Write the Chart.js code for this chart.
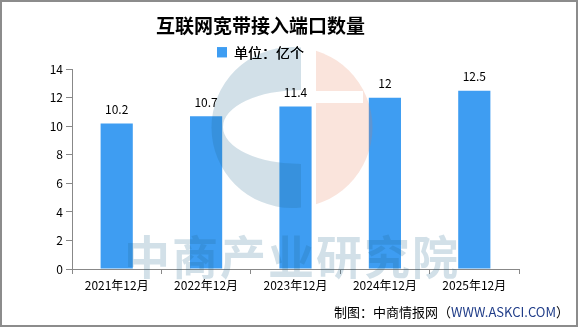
<!DOCTYPE html>
<html>
<head>
<meta charset="utf-8">
<script src="https://cdn.jsdelivr.net/npm/chart.js"></script>
<style>
    body { margin: 0; background: #fff; }
    #marco { position: absolute; left: 0; top: 0; width: 578px; height: 327px; border: 2px solid #8c8c8c; box-sizing: border-box; }
    canvas { display: block; }
</style>
</head>
<body>
<div id="marco"><canvas id="chartPuertos" width="574" height="323"></canvas></div>
<script>
// Datos del gráfico
const categorias = ['2021年12月', '2022年12月', '2023年12月', '2024年12月', '2025年12月'];
const valores = [10.2, 10.7, 11.4, 12, 12.5];
const etiquetasValor = ['10.2', '10.7', '11.4', '12', '12.5'];
const ticksY = [0, 2, 4, 6, 8, 10, 12, 14];

const fuente = '"Noto Sans CJK SC", "Liberation Sans", sans-serif';

// Marca de agua (logo + texto) encima de las barras
const marcaAgua = {
    id: 'marcaAgua',
    afterDatasetsDraw(chart) {
        const ctx = chart.ctx;
        ctx.save();
        // parte azul: mitad izquierda del círculo menos elipse
        ctx.beginPath();
        ctx.rect(0, 0, 299, 323);
        ctx.clip();
        ctx.beginPath();
        ctx.arc(290, 125.5, 80.5, 0, Math.PI * 2);
        ctx.ellipse(299, 125, 78, 37, 0, 0, Math.PI * 2, true);
        ctx.fillStyle = 'rgba(30,100,140,0.2)';
        ctx.fill('evenodd');
        ctx.restore();

        // parte rosa: mitad derecha con muesca
        ctx.save();
        ctx.beginPath();
        ctx.rect(314, 0, 100, 89);
        ctx.rect(314, 101, 100, 200);
        ctx.rect(361, 89, 60, 12);
        ctx.clip();
        ctx.beginPath();
        ctx.arc(290, 125.5, 80.5, 0, Math.PI * 2);
        ctx.fillStyle = 'rgba(230,120,80,0.2)';
        ctx.fill();
        ctx.restore();

        // texto
        ctx.save();
        ctx.font = 'bold 46px ' + fuente;
        ctx.letterSpacing = '2px';
        ctx.textAlign = 'center';
        ctx.textBaseline = 'middle';
        ctx.fillStyle = 'rgba(30,100,140,0.2)';
        ctx.fillText('中商产业研究院', 290, 255);
        ctx.restore();
    },
    afterDraw(chart) {
        chart.legend.draw();
    }
};

// Etiquetas de valor y pie
const etiquetas = {
    id: 'etiquetas',
    afterDraw(chart) {
        const ctx = chart.ctx;
        const meta = chart.getDatasetMeta(0);
        ctx.save();
        ctx.font = '12px ' + fuente;
        ctx.fillStyle = '#000';
        ctx.textAlign = 'center';
        ctx.textBaseline = 'middle';
        meta.data.forEach((barra, i) => {
            ctx.fillText(etiquetasValor[i], barra.x, barra.y - 14);
        });

        // pie de gráfico
        ctx.font = '13px ' + fuente;
        ctx.textAlign = 'left';
        const partes = [['制图：中商情报网（', '#000'], ['WWW.ASKCI.COM', '#1f3c88'], ['）', '#000']];
        let ancho = partes.reduce((s, p) => s + ctx.measureText(p[0]).width, 0);
        let x = 567 - ancho;
        partes.forEach(p => {
            ctx.fillStyle = p[1];
            ctx.fillText(p[0], x, 310);
            x += ctx.measureText(p[0]).width;
        });
        ctx.restore();
    }
};

const ctx = document.getElementById('chartPuertos').getContext('2d');
const chart = new Chart(ctx, {
    type: 'bar',
    data: {
        labels: categorias,
        datasets: [{
            label: '单位：亿个',
            data: valores,
            backgroundColor: '#3e9df2',
            borderWidth: 0,
            categoryPercentage: 1,
            barPercentage: 0.36
        }]
    },
    options: {
        responsive: false,
        animation: false,
        layout: { padding: { left: 0, right: 57, top: 0, bottom: 30 } },
        plugins: {
            title: {
                display: true,
                text: '互联网宽带接入端口数量',
                color: '#000',
                font: { family: fuente, size: 19, weight: 'bold' },
                padding: { top: 12.5, bottom: 0 }
            },
            legend: {
                display: true,
                labels: {
                    color: '#000',
                    font: { family: fuente, size: 14 },
                    boxWidth: 10,
                    boxHeight: 10,
                    padding: 8
                }
            },
            tooltip: { enabled: false }
        },
        scales: {
            x: {
                grid: { offset: true, drawOnChartArea: false, tickLength: 5, color: '#888' },
                border: { color: '#888' },
                ticks: { color: '#000', font: { family: fuente, size: 12 }, padding: 4, maxRotation: 0 },
                afterFit(scale) { scale.height = 26; }
            },
            y: {
                min: 0,
                max: 14,
                afterBuildTicks(scale) { scale.ticks = ticksY.map(v => ({ value: v })); },
                grid: { drawOnChartArea: false, tickLength: 6, color: '#888' },
                border: { color: '#888' },
                ticks: { color: '#000', font: { family: fuente, size: 12 }, padding: 3 },
                afterFit(scale) { scale.width = 70; }
            }
        }
    },
    plugins: [marcaAgua, etiquetas]
});
</script>
</body>
</html>
